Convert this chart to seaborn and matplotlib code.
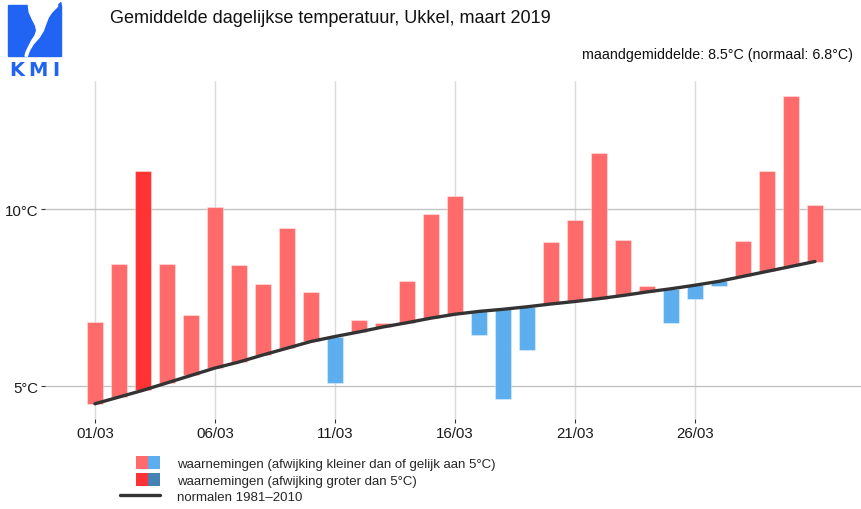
import matplotlib
matplotlib.use("Agg")
import matplotlib.pyplot as plt
import seaborn as sns
import pandas as pd
from matplotlib.patches import Rectangle, Polygon
from matplotlib.lines import Line2D
from matplotlib.legend_handler import HandlerBase
from matplotlib.transforms import Affine2D

# daily mean temperature, Ukkel, March 2019
days = list(range(1, 32))
observed = [6.81, 8.45, 11.07, 8.45, 7.00, 10.07, 8.41, 7.88, 9.46, 7.66,
            5.08, 6.87, 6.78, 7.97, 9.85, 10.38, 6.44, 4.64, 6.01, 9.07,
            9.70, 11.59, 9.13, 7.84, 6.77, 7.47, 7.82, 9.10, 11.07, 13.19, 10.11]
normal = [4.50, 4.69, 4.88, 5.09, 5.30, 5.51, 5.68, 5.88, 6.07, 6.26,
          6.40, 6.53, 6.67, 6.79, 6.92, 7.03, 7.11, 7.17, 7.24, 7.32,
          7.39, 7.47, 7.56, 7.66, 7.75, 7.85, 7.96, 8.10, 8.24, 8.38, 8.52]
tick_days = [1, 6, 11, 16, 21, 26]
tick_labels = ["01/03", "06/03", "11/03", "16/03", "21/03", "26/03"]
y_ticks = [5, 10]
y_labels = ["5°C", "10°C"]

RED, DARK_RED = "#ff6b6b", "#ff3333"
BLUE, DARK_BLUE = "#5daeee", "#4682b4"
LOGO_BLUE = "#2164f3"

df = pd.DataFrame({"day": days, "obs": observed, "normal": normal})
df["dev"] = df["obs"] - df["normal"]


def bar_colour(dev):
    if dev >= 0:
        return DARK_RED if dev > 5 else RED
    return DARK_BLUE if dev < -5 else BLUE


sns.set_style("white")
plt.rcParams["font.family"] = ["Liberation Sans", "DejaVu Sans"]

W, H = 862, 510
fig = plt.figure(figsize=(W / 100, H / 100), dpi=100)
pix = Affine2D().scale(1 / W, -1 / H).translate(0, 1) + fig.transFigure

ax = fig.add_axes([45 / W, 1 - 420 / H, 817 / W, 338 / H])
ax.bar(df["day"], df["dev"], bottom=df["normal"], width=0.65,
       color=[bar_colour(d) for d in df["dev"]],
       edgecolor=(1, 1, 1, 0.35), linewidth=0.8, zorder=2)
sns.lineplot(data=df, x="day", y="normal", color="#333333", linewidth=2.4,
             ax=ax, zorder=3)

ax.set_xlim(-1.08, 32.96)
ax.set_ylim(4.07, 13.62)
ax.set_xticks(tick_days, tick_labels)
ax.set_yticks(y_ticks, y_labels)
ax.set_xlabel("")
ax.set_ylabel("")
for s in ax.spines.values():
    s.set_visible(False)
ax.set_axisbelow(True)
ax.xaxis.grid(True, color="#dadada", linewidth=1.0)
ax.yaxis.grid(True, color="#c4c4c4", linewidth=1.0)
ax.tick_params(axis="both", length=3, width=0.8, color="#333333",
               labelsize=10.8, labelcolor="#1a1a1a", pad=2, bottom=True, left=True)

# title and month summary
fig.text(110 / W, 1 - 23 / H, "Gemiddelde dagelijkse temperatuur, Ukkel, maart 2019",
         fontsize=13, color="#111111", va="baseline", ha="left")
fig.text(853 / W, 1 - 59 / H, "maandgemiddelde: 8.5°C (normaal: 6.8°C)",
         fontsize=10.3, color="#111111", va="baseline", ha="right")

# KMI logo
fig.patches.append(Rectangle((8, 6), 53, 51, transform=pix, color=LOGO_BLUE))
swoosh = [(28.3, 5.5), (59, 5.5), (56.7, 8.3), (51.7, 13.3), (48.3, 18.3),
          (45.7, 25), (43.3, 31.7), (39.3, 38.3), (33.3, 45), (29.3, 51.7),
          (27.3, 57.2), (25, 57.2), (26, 53.3), (28.3, 48.3), (31.7, 41.7),
          (35, 36.7), (36.7, 31.7), (35.7, 26.7), (32.3, 20), (29.3, 13.3)]
fig.patches.append(Polygon(swoosh, closed=True, transform=pix, color="white"))
fig.patches.append(Polygon([(58.5, 6), (61, 3.5), (61, 8)], closed=True,
                           transform=pix, color=LOGO_BLUE))
for letter, cx in [("K", 16.5), ("M", 37.5), ("I", 56)]:
    fig.text(cx, 75.5, letter, transform=pix, fontsize=14, color=LOGO_BLUE,
             ha="center", va="baseline", family="DejaVu Sans", weight="bold")


# legend
class SwatchPair:
    def __init__(self, colours):
        self.colours = colours


class HandlerSwatchPair(HandlerBase):
    # handle box units are points, so convert from pixels
    def create_artists(self, legend, orig_handle, xdescent, ydescent,
                       width, height, fontsize, trans):
        sq, tall = 12 * 0.72, 13 * 0.72
        x0 = -xdescent + width - 2 * sq
        y0 = -ydescent + height / 2 - tall / 2
        return [Rectangle((x0 + i * sq, y0), sq, tall, facecolor=c,
                          edgecolor="none", transform=trans)
                for i, c in enumerate(orig_handle.colours)]


handles = [SwatchPair([RED, BLUE]), SwatchPair([DARK_RED, DARK_BLUE]),
           Line2D([], [], color="#333333", linewidth=2.4)]
labels = ["waarnemingen (afwijking kleiner dan of gelijk aan 5°C)",
          "waarnemingen (afwijking groter dan 5°C)",
          "normalen 1981–2010"]
fig.legend(handles, labels, handler_map={SwatchPair: HandlerSwatchPair()},
           loc="upper left", bbox_to_anchor=(120 / W, 1 - 458 / H),
           frameon=False, fontsize=9.5, handlelength=3.0, handleheight=0.95,
           handletextpad=1.3, labelspacing=0.24, borderpad=0, borderaxespad=0)

fig.savefig("out.png", dpi=100)
